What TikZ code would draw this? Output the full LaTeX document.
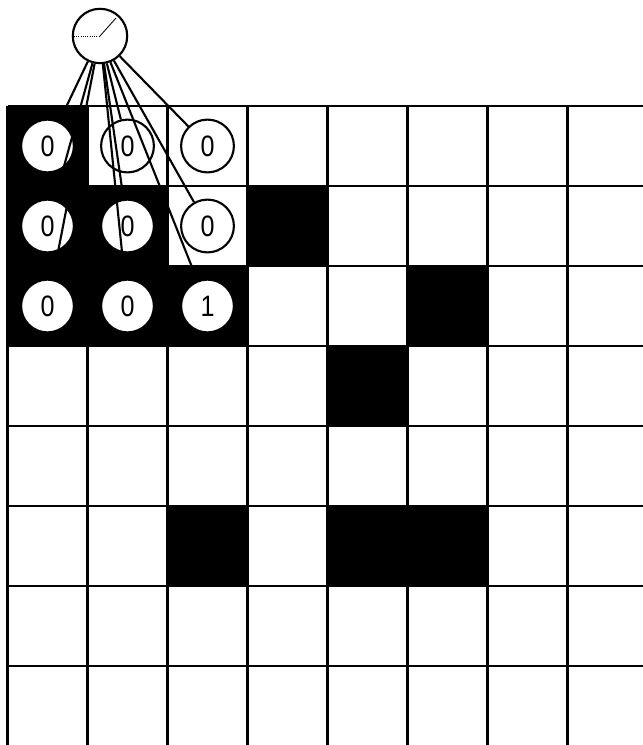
\documentclass[tikz,border=0pt]{standalone}
\usepackage{fontspec}
\setmainfont{Liberation Sans}
\newfontfamily\digitfont[FakeStretch=0.85]{Liberation Sans}
\usetikzlibrary{calc}
\definecolor{Ink}{HTML}{000000}

\begin{document}
\begin{tikzpicture}[x=0.025cm, y=-0.025cm, line width=1.5pt,
  cell/.style={circle, draw=Ink, fill=white, line width=1.5pt,
               minimum size=1.32cm, inner sep=0pt},
  digit/.style={font=\digitfont\fontsize{21}{24}\selectfont},
  unit/.style={circle, draw=Ink, fill=white, line width=1.5pt,
               minimum size=1.36cm, inner sep=0pt}]

  \useasboundingbox (0,0) rectangle (643,745);

  % ===== BLACK CELLS =====
  \foreach \c/\r in {0/0,0/1,1/1,3/1,0/2,1/2,2/2,5/2,4/3,2/5,4/5,5/5}{
    \fill[Ink] (7.5+80*\c,106+80*\r) rectangle ++(80,80);
  }

  % ===== GRID =====
  \foreach \c in {0,...,7}
    \draw[Ink] (7.5+80*\c,106) -- (7.5+80*\c,745);
  \foreach \r in {0,...,7}
    \draw[Ink] (7.5,106+80*\r) -- (643,106+80*\r);

  % ===== RECEPTIVE FIELD =====
  \foreach \r/\c/\v in {0/0/0,0/1/0,0/2/0,1/0/0,1/1/0,1/2/0,2/0/0,2/1/0,2/2/1}{
    \node[cell, digit] (c\r\c) at (47.5+80*\c,146+80*\r) {\v};
  }

  % ===== NEURON =====
  \node[unit] (neuron) at (100,36) {};
  \draw[densely dotted, line width=0.6pt, Ink] (neuron.west) -- (neuron.center);
  \draw[line width=0.6pt, Ink] (neuron.center) -- ++(16,-18);

  % ===== CONNECTIONS =====
  \foreach \n in {00,01,02,10,11,12,20,21,22}
    \draw[Ink] (neuron) -- (c\n);

\end{tikzpicture}
\end{document}
